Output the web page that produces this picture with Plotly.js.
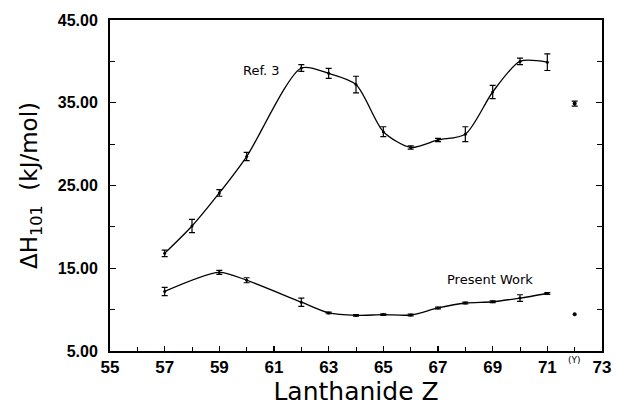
<!DOCTYPE html>
<html>
<head>
<meta charset="utf-8">
<script src="https://cdn.plot.ly/plotly-3.0.1.min.js"></script>
<style>html,body{margin:0;padding:0;background:#fff}#chart{width:620px;height:412px}</style>
</head>
<body>
<div id="chart"></div>
<script>
// Lanthanide atomic numbers
const refZ = [57, 58, 59, 60, 62, 63, 64, 65, 66, 67, 68, 69, 70, 71];
const refH = [16.8, 20.1, 24.1, 28.5, 39.2, 38.55, 37.2, 31.5, 29.6, 30.5, 31.2, 36.3, 40.0, 39.9];
const refErr = [0.4, 0.8, 0.4, 0.5, 0.4, 0.6, 1.0, 0.6, 0.2, 0.2, 0.9, 0.8, 0.4, 1.0];

const presZ = [57, 59, 60, 62, 63, 64, 65, 66, 67, 68, 69, 70, 71];
const presH = [12.2, 14.5, 13.55, 10.9, 9.6, 9.3, 9.4, 9.35, 10.2, 10.8, 10.95, 11.4, 11.95];
const presErr = [0.5, 0.25, 0.3, 0.5, 0.1, 0.1, 0.1, 0.1, 0.1, 0.1, 0.1, 0.4, 0.1];

// Yttrium (plotted at Z = 72, labelled "(Y)")
const yttZ = [72];
const yttRef = [34.9];
const yttRefErr = [0.3];
const yttPres = [9.45];

const xTickVals = [55, 57, 59, 61, 63, 65, 67, 69, 71, 73];
const yTickVals = [5, 15, 25, 35, 45];

const lineStyle = {color: '#000', width: 1.3, shape: 'spline', smoothing: 0.75};
const errStyle = (arr) => ({type: 'data', array: arr, visible: true, color: '#000', thickness: 1.2, width: 3});

const traces = [
  {x: refZ, y: refH, error_y: errStyle(refErr), mode: 'lines+markers', line: lineStyle,
   marker: {color: '#000', size: 3}, showlegend: false, hoverinfo: 'x+y'},
  {x: presZ, y: presH, error_y: errStyle(presErr), mode: 'lines+markers', line: lineStyle,
   marker: {color: '#000', size: 3}, showlegend: false, hoverinfo: 'x+y'},
  {x: yttZ, y: yttRef, error_y: errStyle(yttRefErr), mode: 'markers',
   marker: {color: '#000', size: 4}, showlegend: false},
  {x: yttZ, y: yttPres, mode: 'markers',
   marker: {color: '#000', size: 4}, showlegend: false}
];

const layout = {
  width: 620, height: 412,
  margin: {l: 110, r: 18, t: 20, b: 61},
  paper_bgcolor: '#fff', plot_bgcolor: '#fff',
  xaxis: {
    range: [55, 73], tickvals: xTickVals, ticktext: xTickVals.map(String),
    ticks: 'inside', ticklen: 5, tickwidth: 1.2, tickcolor: '#000',
    minor: {dtick: 1, tick0: 55, ticks: 'inside', ticklen: 4, tickwidth: 1, tickcolor: '#000'},
    showgrid: false, zeroline: false,
    showline: true, linecolor: '#000', linewidth: 2, mirror: true,
    tickfont: {family: 'Liberation Sans, Arial, sans-serif', size: 17, color: '#000', weight: 'bold'},
    title: {text: 'Lanthanide Z', font: {family: 'DejaVu Sans, sans-serif', size: 25, color: '#000'}, standoff: 6},
    automargin: false
  },
  yaxis: {
    range: [5, 45], tickvals: yTickVals, ticktext: yTickVals.map(v => v.toFixed(2)),
    ticks: 'inside', ticklen: 6, tickwidth: 1.2, tickcolor: '#000',
    minor: {dtick: 5, tick0: 5, ticks: 'inside', ticklen: 5, tickwidth: 1, tickcolor: '#000'},
    showgrid: false, zeroline: false,
    showline: true, linecolor: '#000', linewidth: 2, mirror: 'ticks',
    ticklabelstandoff: 7,
    tickfont: {family: 'Liberation Sans, Arial, sans-serif', size: 16, color: '#000', weight: 'bold'},
    title: {text: 'ΔH<sub>101</sub>  (kJ/mol)', font: {family: 'DejaVu Sans, sans-serif', size: 23, color: '#000'}, standoff: 14},
    automargin: false
  },
  annotations: [
    {x: 60.55, y: 38.9, xref: 'x', yref: 'y', text: 'Ref. 3', showarrow: false,
     font: {family: 'DejaVu Sans, sans-serif', size: 13, color: '#000'}},
    {x: 68.9, y: 13.65, xref: 'x', yref: 'y', text: 'Present Work', showarrow: false,
     font: {family: 'DejaVu Sans, sans-serif', size: 13, color: '#000'}},
    {x: 72, y: 0, xref: 'x', yref: 'paper', text: '(Y)', showarrow: false, yanchor: 'top', yshift: -2,
     font: {family: 'DejaVu Sans, sans-serif', size: 9, color: '#000'}}
  ]
};

Plotly.newPlot('chart', traces, layout, {displayModeBar: false, staticPlot: true});
</script>
</body>
</html>
